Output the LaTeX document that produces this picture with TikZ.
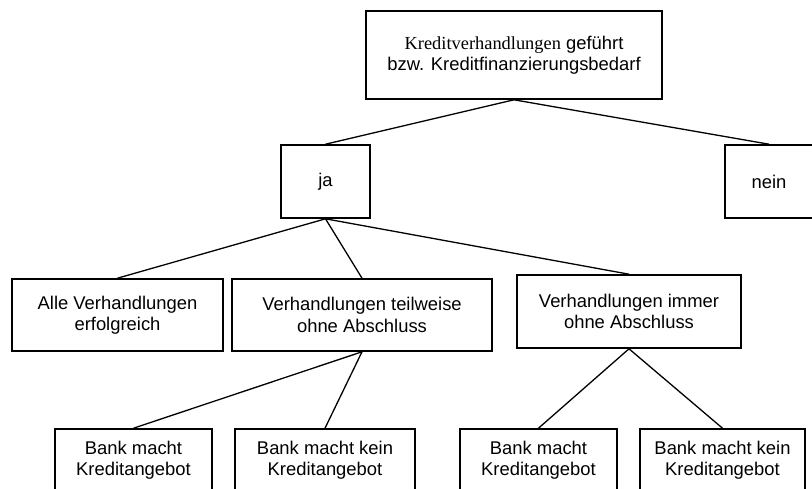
\documentclass[tikz,border=0pt]{standalone}
\usepackage{fontspec}
\setmainfont{Liberation Sans}
\newfontfamily\serifword{Liberation Serif}
\usepackage{tikz}
\usetikzlibrary{positioning}
\newcommand{\boxfont}{\fontsize{18.4}{21.5}\selectfont}

\begin{document}
\begin{tikzpicture}[x=1pt, y=-1pt,
    box/.style={draw, line width=1.6pt, align=center, inner sep=0pt, font=\boxfont},
    link/.style={line width=1.3pt}]
  \clip (0,0) rectangle (812,488);
  \node[box, minimum width=296pt, minimum height=88pt] (root) at (514,55)
    {{\serifword Kreditverhandlungen} geführt\\bzw. Kreditfinanzierungsbedarf};
  \node[box, minimum width=89pt, minimum height=73pt] (ja) at (325.5,181.5) {ja};
  \node[box, minimum width=88pt, minimum height=73pt] (nein) at (769,181.5) {nein};
  \node[box, minimum width=211pt, minimum height=72pt] (alle) at (117.5,315)
    {Alle Verhandlungen\\erfolgreich};
  \node[box, minimum width=260pt, minimum height=72pt] (teil) at (362,315)
    {Verhandlungen teilweise\\ohne Abschluss};
  \node[box, minimum width=224pt, minimum height=73pt] (immer) at (629,311.5)
    {Verhandlungen immer\\ohne Abschluss};
  \node[box, minimum width=157pt, minimum height=62pt] (teilja) at (133.5,460)
    {Bank macht\\Kreditangebot};
  \node[box, minimum width=180pt, minimum height=62pt] (teilnein) at (325,460)
    {Bank macht kein\\Kreditangebot};
  \node[box, minimum width=157pt, minimum height=62pt] (immerja) at (538.5,460)
    {Bank macht\\Kreditangebot};
  \node[box, minimum width=165pt, minimum height=62pt] (immernein) at (722.5,460)
    {Bank macht kein\\Kreditangebot};

  \draw[link] (root.south) -- (ja.north);
  \draw[link] (root.south) -- (nein.north);
  \draw[link] (ja.south) -- (alle.north);
  \draw[link] (ja.south) -- (teil.north);
  \draw[link] (ja.south) -- (immer.north);
  \draw[link] (teil.south) -- (teilja.north);
  \draw[link] (teil.south) -- (teilnein.north);
  \draw[link] (immer.south) -- (immerja.north);
  \draw[link] (immer.south) -- (immernein.north);
\end{tikzpicture}
\end{document}
